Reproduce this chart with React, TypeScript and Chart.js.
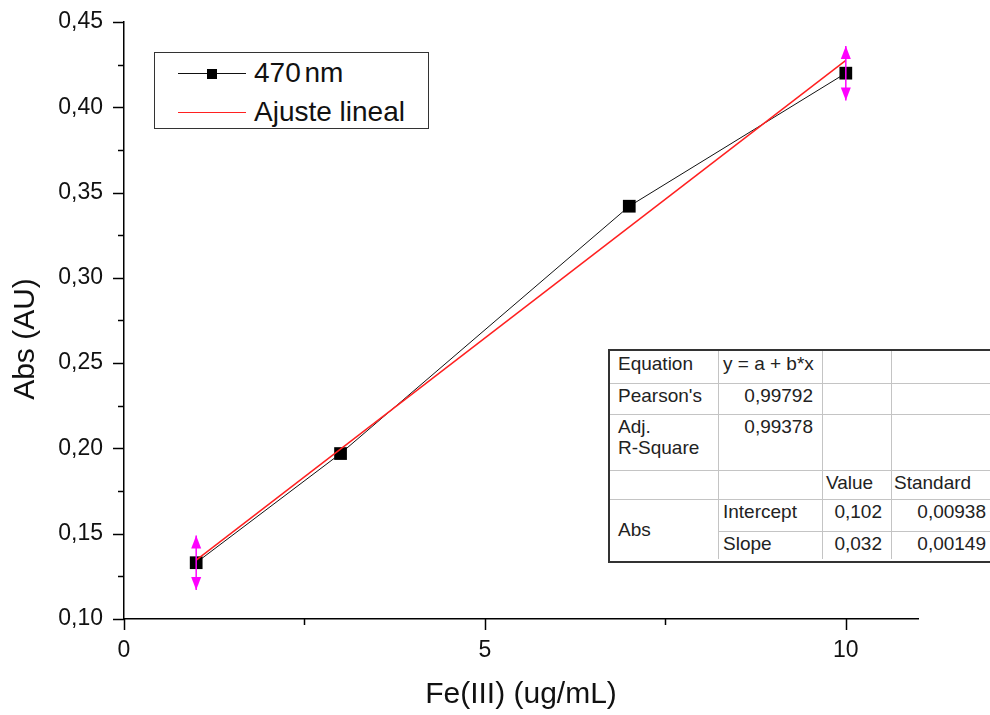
import React, { useEffect, useRef } from 'react';
import { Chart, registerables } from 'chart.js';

Chart.register(...registerables);

// ---------- data ----------
const concentration = [1, 3, 7, 10];
const absorbance = [0.133, 0.197, 0.342, 0.42];
const absError = [0.016, 0, 0, 0.016];
const fitX = [1, 10];
const fitY = [0.1345, 0.4275];
const xTickValues = [0, 2.5, 5, 7.5, 10];
const xMajorTicks = [0, 5, 10];
const yTickValues = [0.1, 0.125, 0.15, 0.175, 0.2, 0.225, 0.25, 0.275, 0.3, 0.325, 0.35, 0.375, 0.4, 0.425, 0.45];
const yMajorTicks = [0.1, 0.15, 0.2, 0.25, 0.3, 0.35, 0.4, 0.45];
const seriesLabel = '470 nm';
const fitLabel = 'Ajuste lineal';
const xTitle = 'Fe(III) (ug/mL)';
const yTitle = 'Abs (AU)';
const tableEquation = ['Equation', 'y = a + b*x'];
const tablePearson = ["Pearson's", '0,99792'];
const tableAdjR2 = ['Adj.', 'R-Square', '0,99378'];
const tableHeader = ['Value', 'Standard'];
const tableGroup = 'Abs';
const tableIntercept = ['Intercept', '0,102', '0,00938'];
const tableSlope = ['Slope', '0,032', '0,00149'];

const FONT = '"Liberation Sans", Arial, sans-serif';

const isIn = (v: number, list: number[]) => list.some((m) => Math.abs(m - v) < 1e-9);

const tickPlugin = {
  id: 'axisTicks',
  afterDraw(chart: any) {
    const { ctx, chartArea, scales } = chart;
    ctx.save();
    ctx.strokeStyle = '#000';
    ctx.lineWidth = 1.5;
    yTickValues.forEach((v) => {
      const y = Math.round(scales.y.getPixelForValue(v)) + 0.5;
      const len = isIn(v, yMajorTicks) ? 11 : 6;
      ctx.beginPath();
      ctx.moveTo(chartArea.left - len, y);
      ctx.lineTo(chartArea.left, y);
      ctx.stroke();
    });
    xTickValues.forEach((v) => {
      const x = Math.round(scales.x.getPixelForValue(v)) + 0.5;
      const len = isIn(v, xMajorTicks) ? 11 : 6;
      ctx.beginPath();
      ctx.moveTo(x, chartArea.bottom);
      ctx.lineTo(x, chartArea.bottom + len);
      ctx.stroke();
    });
    // y axis title
    ctx.save();
    ctx.translate(26, 339);
    ctx.rotate(-Math.PI / 2);
    ctx.fillStyle = '#111';
    ctx.font = `30px ${FONT}`;
    ctx.textAlign = 'center';
    ctx.textBaseline = 'middle';
    ctx.fillText(yTitle, 0, 0);
    ctx.restore();
    ctx.restore();
  },
};

const errorBarPlugin = {
  id: 'errorBars',
  afterDatasetsDraw(chart: any) {
    const { ctx, scales } = chart;
    ctx.save();
    ctx.strokeStyle = '#ff00ff';
    ctx.fillStyle = '#ff00ff';
    ctx.lineWidth = 1.5;
    concentration.forEach((xv, i) => {
      const e = absError[i];
      if (!e) return;
      const x = scales.x.getPixelForValue(xv);
      const top = scales.y.getPixelForValue(absorbance[i] + e);
      const bot = scales.y.getPixelForValue(absorbance[i] - e);
      ctx.beginPath();
      ctx.moveTo(x, top);
      ctx.lineTo(x, bot);
      ctx.stroke();
      ctx.beginPath();
      ctx.moveTo(x, top);
      ctx.lineTo(x - 5, top + 13);
      ctx.lineTo(x + 5, top + 13);
      ctx.closePath();
      ctx.fill();
      ctx.beginPath();
      ctx.moveTo(x, bot);
      ctx.lineTo(x - 5, bot - 13);
      ctx.lineTo(x + 5, bot - 13);
      ctx.closePath();
      ctx.fill();
    });
    ctx.restore();
  },
};

const cellBase: React.CSSProperties = {
  position: 'absolute',
  boxSizing: 'border-box',
  padding: '2px 5px 0 5px',
  lineHeight: '21px',
  fontSize: 19,
  color: '#222',
  whiteSpace: 'nowrap',
};

function FitTable() {
  const colX = [0, 108, 212, 281, 386];
  const rowY = [0, 32, 63, 119, 148, 180, 208];
  const cell = (c: number, r: number, text: React.ReactNode, align: 'left' | 'right' = 'left', extra: React.CSSProperties = {}) => (
    <div
      key={`${c}-${r}`}
      style={{
        ...cellBase,
        left: colX[c],
        top: rowY[r],
        width: colX[c + 1] - colX[c],
        height: rowY[r + 1] - rowY[r],
        textAlign: align,
        paddingRight: align === 'right' ? 9 : 5,
        ...extra,
      }}
    >
      {text}
    </div>
  );
  const hLines = [1, 2, 3, 4];
  return (
    <div
      style={{
        position: 'absolute',
        left: 608,
        top: 349,
        width: 400,
        height: 210,
        background: '#fff',
        borderLeft: '2px solid #333',
        borderTop: '2px solid #333',
        borderBottom: '2px solid #333',
        fontFamily: FONT,
      }}
    >
      {hLines.map((r) => (
        <div key={'h' + r} style={{ position: 'absolute', left: 0, width: 400, top: rowY[r], height: 1, background: '#c4c4c4' }} />
      ))}
      <div style={{ position: 'absolute', left: colX[1], width: 400, top: rowY[5], height: 1, background: '#c4c4c4' }} />
      {[1, 2, 3].map((c) => (
        <div key={'v' + c} style={{ position: 'absolute', top: 0, height: 208, left: colX[c], width: 1, background: '#c4c4c4' }} />
      ))}
      {cell(0, 0, tableEquation[0], 'left', { paddingLeft: 8 })}
      {cell(1, 0, tableEquation[1])}
      {cell(0, 1, tablePearson[0], 'left', { paddingLeft: 8 })}
      {cell(1, 1, tablePearson[1], 'right')}
      {cell(0, 2, (<>{tableAdjR2[0]}<br />{tableAdjR2[1]}</>), 'left', { paddingLeft: 8 })}
      {cell(1, 2, tableAdjR2[2], 'right')}
      {cell(2, 3, tableHeader[0], 'left', { paddingLeft: 4 })}
      {cell(3, 3, tableHeader[1], 'left', { paddingLeft: 3 })}
      <div
        style={{
          ...cellBase,
          left: 0,
          top: rowY[4],
          width: colX[1],
          height: rowY[6] - rowY[4],
          display: 'flex',
          alignItems: 'center',
          padding: '0 0 0 8px',
        }}
      >
        {tableGroup}
      </div>
      {cell(1, 4, tableIntercept[0])}
      {cell(2, 4, tableIntercept[1], 'right')}
      {cell(3, 4, tableIntercept[2], 'right', { paddingRight: 10 })}
      {cell(1, 5, tableSlope[0])}
      {cell(2, 5, tableSlope[1], 'right')}
      {cell(3, 5, tableSlope[2], 'right', { paddingRight: 10 })}
    </div>
  );
}

function Legend() {
  const rowText: React.CSSProperties = {
    position: 'absolute',
    left: 99,
    height: 34,
    lineHeight: '34px',
    fontSize: 28,
    color: '#111',
    whiteSpace: 'nowrap',
  };
  return (
    <div
      style={{
        position: 'absolute',
        left: 154,
        top: 52,
        width: 275,
        height: 77,
        boxSizing: 'border-box',
        border: '1.5px solid #333',
        background: '#fff',
        fontFamily: FONT,
      }}
    >
      <div style={{ position: 'absolute', left: 23, top: 20, width: 68, height: 1, background: '#111' }} />
      <div style={{ position: 'absolute', left: 52, top: 16, width: 10, height: 10, background: '#000' }} />
      <div style={{ ...rowText, top: 3, wordSpacing: -4 }}>{seriesLabel}</div>
      <div style={{ position: 'absolute', left: 23, top: 59, width: 68, height: 1, background: '#ff2020' }} />
      <div style={{ ...rowText, top: 42 }}>{fitLabel}</div>
    </div>
  );
}

export default function App() {
  const canvasRef = useRef<HTMLCanvasElement | null>(null);

  useEffect(() => {
    if (!canvasRef.current) return;
    const chart = new Chart(canvasRef.current, {
      type: 'line',
      data: {
        datasets: [
          {
            label: fitLabel,
            data: fitX.map((x, i) => ({ x, y: fitY[i] })),
            borderColor: '#ff2020',
            borderWidth: 1.5,
            pointRadius: 0,
            fill: false,
          },
          {
            label: seriesLabel,
            data: concentration.map((x, i) => ({ x, y: absorbance[i] })),
            borderColor: '#111',
            borderWidth: 1,
            pointStyle: 'rect',
            pointRadius: 9,
            pointBorderWidth: 0,
            pointBackgroundColor: '#000',
            pointBorderColor: '#000',
            fill: false,
          },
        ],
      },
      options: {
        responsive: false,
        animation: false,
        layout: { padding: { top: 22, right: 72, left: 0, bottom: 0 } },
        plugins: { legend: { display: false }, tooltip: { enabled: false } },
        scales: {
          x: {
            type: 'linear',
            min: 0,
            max: 11,
            afterBuildTicks: (s: any) => {
              s.ticks = xTickValues.map((v) => ({ value: v }));
            },
            afterFit: (s: any) => {
              s.height = 96;
              s.paddingLeft = 0;
              s.paddingRight = 0;
            },
            grid: { display: false },
            border: { display: true, color: '#000', width: 1.5 },
            ticks: {
              autoSkip: false,
              maxRotation: 0,
              padding: 10,
              color: '#111',
              font: { family: FONT, size: 23 },
              callback: (v: any) => (isIn(Number(v), xMajorTicks) ? String(v) : ''),
            },
            title: {
              display: true,
              text: xTitle,
              color: '#111',
              font: { family: FONT, size: 30 },
              padding: { top: 0, bottom: 2 },
            },
          },
          y: {
            type: 'linear',
            min: 0.1,
            max: 0.45,
            afterBuildTicks: (s: any) => {
              s.ticks = yTickValues.map((v) => ({ value: v }));
            },
            afterFit: (s: any) => {
              s.width = 124;
              s.paddingTop = 0;
              s.paddingBottom = 0;
            },
            grid: { display: false },
            border: { display: true, color: '#000', width: 1.5 },
            ticks: {
              autoSkip: false,
              padding: 13,
              color: '#111',
              font: { family: FONT, size: 23 },
              callback: (v: any) => (isIn(Number(v), yMajorTicks) ? Number(v).toFixed(2).replace('.', ',') : ''),
            },
            title: { display: false },
          },
        },
      },
      plugins: [tickPlugin, errorBarPlugin],
    } as any);
    return () => chart.destroy();
  }, []);

  return (
    <div style={{ position: 'absolute', left: 0, top: 0, width: 990, height: 715, overflow: 'hidden', background: '#fff' }}>
      <canvas ref={canvasRef} width={990} height={715} style={{ width: 990, height: 715, display: 'block' }} />
      <Legend />
      <FitTable />
    </div>
  );
}
